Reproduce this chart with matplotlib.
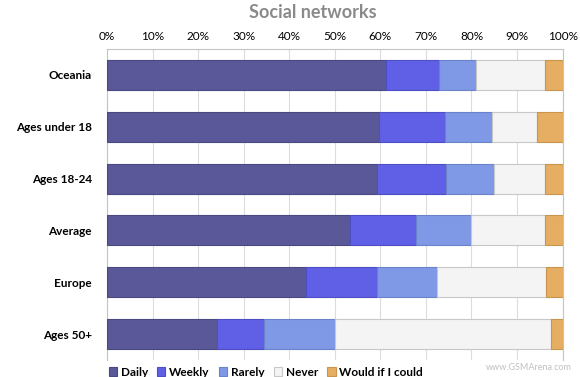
import numpy as np
import matplotlib
matplotlib.use("Agg")
from matplotlib import pyplot as plt

# data (percent of respondents)
groups = ["Oceania", "Ages under 18", "Ages 18-24", "Average", "Europe", "Ages 50+"]
daily = [61.3, 59.7, 59.2, 53.4, 43.6, 24.2]
weekly = [11.5, 14.5, 15.2, 14.4, 15.6, 10.2]
rarely = [8.3, 10.3, 10.5, 12.1, 13.3, 15.6]
never = [15.0, 9.8, 11.3, 16.3, 23.8, 47.4]
would = [3.9, 5.7, 3.8, 3.8, 3.7, 2.6]

series = [("Daily", daily, "#5b5899", "#4a4880"),
          ("Weekly", weekly, "#6060e6", "#4e4ec4"),
          ("Rarely", rarely, "#7f99e6", "#6a82c8"),
          ("Never", never, "#f4f4f4", "#c8c8c8"),
          ("Would if I could", would, "#e6ae62", "#c8944e")]

plt.rcParams['font.family'] = ['Lato', 'DejaVu Sans']

fig = plt.figure(figsize=(5.8, 3.77), dpi=100)
ax = fig.add_axes([0.1845, 0.045, 0.7855, 0.825])

y = np.arange(len(groups))
left = np.zeros(len(groups))
for name, vals, col, edge in series:
    vals = np.array(vals)
    ax.barh(y, vals, left=left, height=0.58, color=col, edgecolor=edge,
            linewidth=0.8, label=name, zorder=3)
    left += vals

ax.set_xlim(0, 100)
ax.set_ylim(len(groups) - 0.5, -0.5)
ax.set_xticks(np.arange(0, 101, 10))
ax.set_xticklabels([f"{v}%" for v in range(0, 101, 10)], fontsize=8.5)
ax.xaxis.tick_top()
ax.tick_params(axis="x", length=0, pad=5)
ax.set_yticks(y)
ax.set_yticklabels(groups, fontsize=8.5, fontweight="bold")
ax.tick_params(axis="y", length=0, pad=11)
ax.grid(axis="x", color="#dcdcdc", linewidth=0.8, zorder=0)
ax.spines["bottom"].set_visible(False)
for s in ["left", "right", "top"]:
    ax.spines[s].set_color("#c4c4c4")

fig.text(313 / 580, 1 - 13 / 377, "Social networks", ha="center", va="center",
         fontsize=13, fontweight="bold", color="#8a8a8a")

fig.legend(loc="lower left", bbox_to_anchor=(104 / 580, -0.014), ncol=5,
           frameon=False, prop={"size": 8.5, "weight": "bold"},
           handlelength=0.7, handleheight=0.7,
           handletextpad=0.3, columnspacing=0.8, borderaxespad=0)

fig.text(572 / 580, 1 - 367 / 377, "www.GSMArena.com", ha="right", va="center",
         fontsize=6.5, color="#c0c0c0")

fig.savefig("out.png", dpi=100)
